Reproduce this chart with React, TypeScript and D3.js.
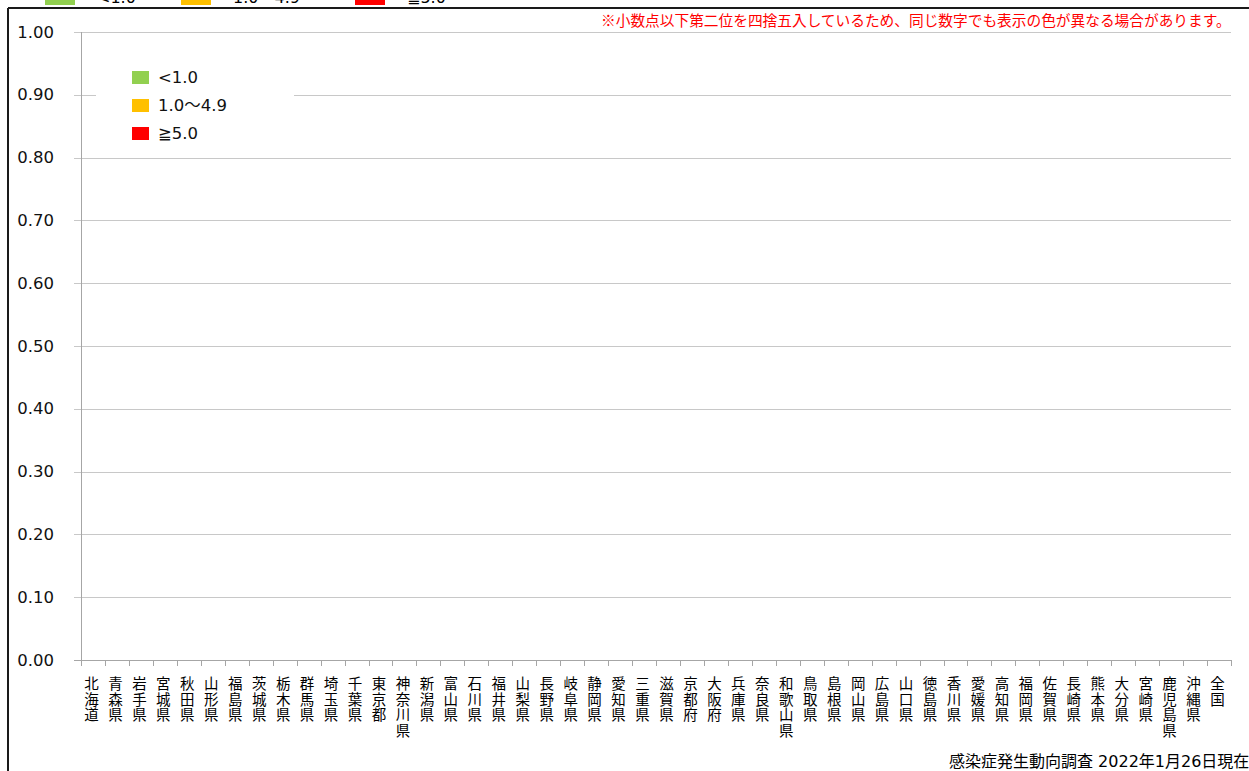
import React from "react";
import * as d3 from "d3";

const categories = [
  "北海道", "青森県", "岩手県", "宮城県", "秋田県", "山形県", "福島県", "茨城県",
  "栃木県", "群馬県", "埼玉県", "千葉県", "東京都", "神奈川県", "新潟県", "富山県",
  "石川県", "福井県", "山梨県", "長野県", "岐阜県", "静岡県", "愛知県", "三重県",
  "滋賀県", "京都府", "大阪府", "兵庫県", "奈良県", "和歌山県", "鳥取県", "島根県",
  "岡山県", "広島県", "山口県", "徳島県", "香川県", "愛媛県", "高知県", "福岡県",
  "佐賀県", "長崎県", "熊本県", "大分県", "宮崎県", "鹿児島県", "沖縄県", "全国",
];

const values = [
  0, 0, 0, 0, 0, 0, 0, 0,
  0, 0, 0, 0, 0, 0, 0, 0,
  0, 0, 0, 0, 0, 0, 0, 0,
  0, 0, 0, 0, 0, 0, 0, 0,
  0, 0, 0, 0, 0, 0, 0, 0,
  0, 0, 0, 0, 0, 0, 0, 0,
];

const yTicks = [0, 0.1, 0.2, 0.3, 0.4, 0.5, 0.6, 0.7, 0.8, 0.9, 1.0];
const legendLabels = ["<1.0", "1.0〜4.9", "≧5.0"];
const legendColors = ["#92d050", "#ffc000", "#ff0000"];
const noteText = "※小数点以下第二位を四捨五入しているため、同じ数字でも表示の色が異なる場合があります。";
const sourceText = "感染症発生動向調査 2022年1月26日現在";

const W = 1249;
const H = 771;
const LATIN = "'DejaVu Sans', 'Noto Sans CJK JP', sans-serif";
const CJK = "'Noto Sans CJK JP', 'DejaVu Sans', sans-serif";

function colorFor(v: number) {
  if (v < 1.0) return legendColors[0];
  if (v < 5.0) return legendColors[1];
  return legendColors[2];
}

export default function App() {
  const x = d3.scaleBand<string>().domain(categories).range([81, 1231]).padding(0);
  const y = d3.scaleLinear().domain([0, 1]).range([660, 32]);
  const fmt = d3.format(".2f");
  const bw = x.bandwidth();

  const topLegendX = [45, 181, 355];

  return (
    <svg
      width={W}
      height={H}
      style={{ position: "absolute", left: 0, top: 0, background: "#fff" }}
    >
      <rect x={0} y={0} width={W} height={H} fill="#fff" />
      {/* top legend (cut off) */}
      {legendLabels.map((l, i) => (
        <g key={"tl" + i}>
          <rect x={topLegendX[i]} y={-9} width={30} height={14} fill={legendColors[i]} />
          <text x={topLegendX[i] + 52} y={3} fontSize={16} fontFamily={LATIN} fill="#000">
            {l}
          </text>
        </g>
      ))}
      {/* frame */}
      <line x1={8} y1={8} x2={W + 10} y2={8} stroke="#1a1a1a" strokeWidth={2} />
      <line x1={8} y1={8} x2={8} y2={H + 10} stroke="#1a1a1a" strokeWidth={2} />

      {/* gridlines */}
      {yTicks.map((t, i) => (
        <g key={"g" + i}>
          <line
            x1={74}
            x2={1231}
            y1={Math.round(y(t)) + 0.5}
            y2={Math.round(y(t)) + 0.5}
            stroke={t === 0 ? "#a6a6a6" : "#c8c8c8"}
            strokeWidth={1}
          />
          <text
            x={54}
            y={y(t)}
            textAnchor="end"
            dominantBaseline="central"
            fontSize={16.5}
            fontFamily={LATIN}
            fill="#111"
          >
            {fmt(t)}
          </text>
        </g>
      ))}
      {/* y axis */}
      <line x1={81.5} x2={81.5} y1={y(1)} y2={y(0) + 6} stroke="#a6a6a6" strokeWidth={1} />
      {/* x ticks */}
      {categories.map((c, i) => (
        <line
          key={"xt" + i}
          x1={Math.round(x(c)!) + 0.5}
          x2={Math.round(x(c)!) + 0.5}
          y1={y(0)}
          y2={y(0) + 6}
          stroke="#a6a6a6"
        />
      ))}
      <line x1={1231.5} x2={1231.5} y1={y(0)} y2={y(0) + 6} stroke="#a6a6a6" />

      {/* bars */}
      {categories.map((c, i) => (
        <rect
          key={"b" + i}
          x={x(c)! + bw * 0.2}
          width={bw * 0.6}
          y={y(values[i])}
          height={y(0) - y(values[i])}
          fill={colorFor(values[i])}
        />
      ))}

      {/* category labels */}
      {categories.map((c, i) => (
        <text
          key={"cl" + i}
          fontSize={14.5}
          fontFamily={CJK}
          fill="#000"
          textAnchor="middle"
        >
          {Array.from(c).map((ch, j) => (
            <tspan key={j} x={x(c)! + bw / 2 - 1.5} y={682.5 + j * 15.7} dominantBaseline="central">
              {ch}
            </tspan>
          ))}
        </text>
      ))}

      {/* inner legend */}
      <rect x={96} y={55} width={198} height={95} fill="#fff" />
      {legendLabels.map((l, i) => (
        <g key={"il" + i}>
          <rect x={132} y={71 + i * 28} width={17} height={13} fill={legendColors[i]} />
          <text
            x={158}
            y={77.5 + i * 28}
            dominantBaseline="central"
            fontSize={16.5}
            fontFamily={LATIN}
            fill="#111"
          >
            {l}
          </text>
        </g>
      ))}

      {/* note */}
      <text x={601} y={26} fontSize={14.7} fontFamily={CJK} fill="#ff0000">
        {noteText}
      </text>
      {/* source */}
      <text x={949} y={767} fontSize={16} fontFamily={LATIN} fill="#000">
        {sourceText}
      </text>
    </svg>
  );
}
